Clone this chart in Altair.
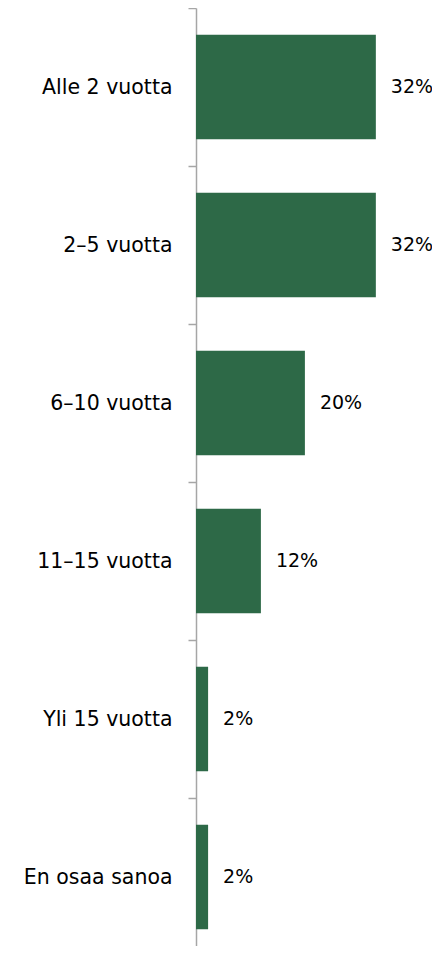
import altair as alt
import pandas as pd

categories = ["Alle 2 vuotta", "2–5 vuotta", "6–10 vuotta", "11–15 vuotta", "Yli 15 vuotta", "En osaa sanoa"]
values = [32.7, 32.7, 19.8, 11.8, 2.2, 2.2]
labels = ["32%", "32%", "20%", "12%", "2%", "2%"]

df = pd.DataFrame({"cat": categories, "val": values, "lab": labels})

y = alt.Y("cat:N", sort=categories, title=None,
          scale=alt.Scale(paddingInner=0, paddingOuter=0),
          axis=alt.Axis(tickBand="extent", tickSize=8, labelPadding=16,
                        labelFont="DejaVu Sans", labelFontSize=20.5, labelColor="#000000",
                        domainColor="#A6A6A6", tickColor="#A6A6A6", domainWidth=1.5, tickWidth=1.5,
                        labelLimit=300))
x = alt.X("val:Q", title=None, scale=alt.Scale(domain=[0, 40], nice=False), axis=None)

bars = alt.Chart(df).mark_bar(color="#2D6947", height={"band": 0.66}).encode(x=x, y=y)
text = alt.Chart(df).mark_text(align="left", baseline="middle", dx=15,
                               font="DejaVu Sans", fontSize=19, color="#000000").encode(
    x=x, y=y, text="lab:N")

chart = (bars + text).properties(
    width=220, height=948,
    autosize=alt.AutoSizeParams(type="none"),
    padding={"top": 0, "left": 188, "right": 16, "bottom": -10}
).configure_view(stroke=None)
chart.save("out.html", embed_options={"renderer": "svg", "actions": False})
